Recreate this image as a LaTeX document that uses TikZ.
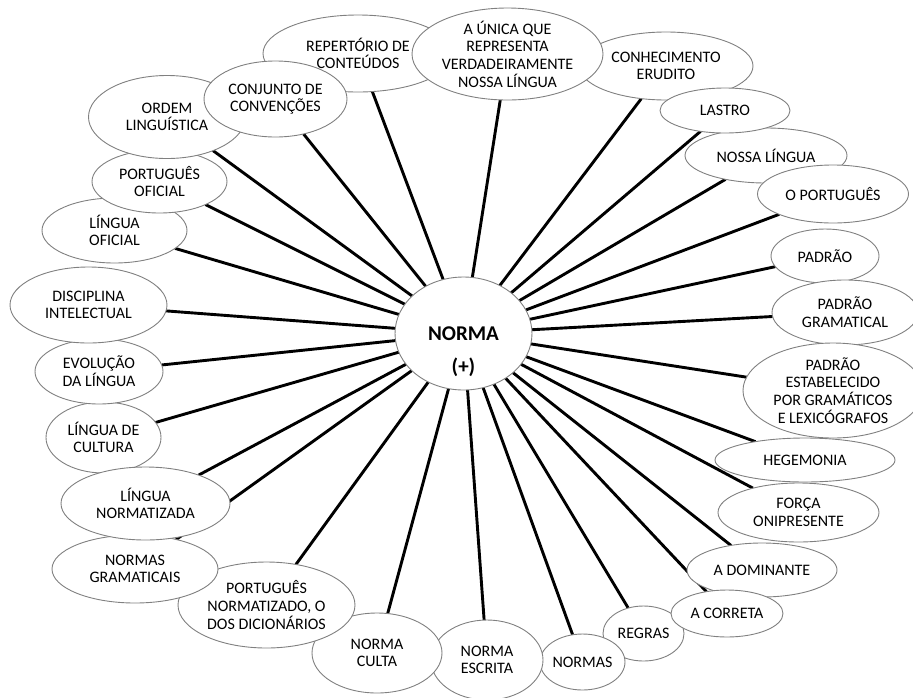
\documentclass[tikz,border=0pt]{standalone}
\usepackage{fontspec}
\setmainfont{Carlito}
\usetikzlibrary{shapes.geometric,backgrounds}
\begin{document}
\begin{tikzpicture}[x=1pt,y=-1pt,
  bub/.style={ellipse, draw=black!50, line width=0.9pt, fill=white, inner sep=-24pt, outer sep=0pt,
    align=center, font=\fontsize{16}{17.7}\selectfont},
  hub/.style={ellipse, draw=black!50, line width=0.9pt, fill=white, inner sep=-24pt, outer sep=0pt,
    minimum width=137pt, minimum height=113pt, font=\bfseries\fontsize{21}{24}\selectfont},
  hubtxt/.style={inner sep=0pt, font=\bfseries\fontsize{21}{24}\selectfont},
  conn/.style={line width=2.9pt, black}]
\useasboundingbox (0,0) rectangle (913,697);

% central node
\node[hub] (norma) at (463.5,333.5) {NORMA};
\node[hubtxt] (plus) at (463.5,367) {(+)};

% surrounding ellipses (drawing order = stacking order)
\node[bub, minimum width=81pt, minimum height=55pt] (regras) at (643.5,633.5) {REGRAS};
\node[bub, minimum width=85pt, minimum height=56pt] (normas) at (582.5,662) {NORMAS};
\node[bub, minimum width=112pt, minimum height=80pt] (ne) at (487,660) {NORMA\\ESCRITA};
\node[bub, minimum width=130pt, minimum height=80pt] (nc) at (377,653) {NORMA\\CULTA};
\node[bub, minimum width=177pt, minimum height=86pt] (pn) at (266.5,605) {PORTUGUÊS\\NORMATIZADO, O\\DOS DICIONÁRIOS};
\node[bub, minimum width=166pt, minimum height=68pt] (ng) at (135,569) {NORMAS\\GRAMATICAIS};
\node[bub, minimum width=115pt, minimum height=71pt] (ldc) at (103.5,437.5) {LÍNGUA DE\\CULTURA};
\node[bub, minimum width=169pt, minimum height=73pt] (ln) at (145.5,503.5) {LÍNGUA\\NORMATIZADA};
\node[bub, minimum width=128pt, minimum height=65pt] (evol) at (99,371.5) {EVOLUÇÃO\\DA LÍNGUA};
\node[bub, minimum width=157pt, minimum height=76pt] (disc) at (88.5,305) {DISCIPLINA\\INTELECTUAL};
\node[bub, minimum width=145pt, minimum height=65pt] (lo) at (114.5,230.5) {LÍNGUA\\OFICIAL};
\node[bub, minimum width=135pt, minimum height=63pt] (po) at (159.5,181.5) {PORTUGUÊS\\OFICIAL};
\node[bub, minimum width=157pt, minimum height=83pt] (ordem) at (167,117) {ORDEM\\LINGUÍSTICA};
\node[bub, minimum width=190pt, minimum height=77pt] (rep) at (358,53.5) {REPERTÓRIO DE\\CONTEÚDOS};
\node[bub, minimum width=143pt, minimum height=76pt] (conj) at (275.5,99) {CONJUNTO DE\\CONVENÇÕES};
\node[bub, minimum width=174pt, minimum height=68pt] (conh) at (666,66) {CONHECIMENTO\\ERUDITO};
\node[bub, minimum width=191pt, minimum height=92pt] (unica) at (507.5,54) {A ÚNICA QUE\\REPRESENTA\\VERDADEIRAMENTE\\NOSSA LÍNGUA};
\node[bub, minimum width=162pt, minimum height=55pt] (nl) at (766,155.5) {NOSSA LÍNGUA};
\node[bub, minimum width=130pt, minimum height=45pt] (lastro) at (725,110.5) {LASTRO};
\node[bub, minimum width=151pt, minimum height=58pt] (op) at (833,194) {O PORTUGUÊS};
\node[bub, minimum width=108pt, minimum height=54pt] (padrao) at (825,256) {PADRÃO};
\node[bub, minimum width=146pt, minimum height=65pt] (pg) at (845,312.5) {PADRÃO\\GRAMATICAL};
\node[bub, minimum width=180pt, minimum height=95pt] (pe) at (833,390.5) {PADRÃO\\ESTABELECIDO\\POR GRAMÁTICOS\\E LEXICÓGRAFOS};
\node[bub, minimum width=180pt, minimum height=44pt] (heg) at (805,460) {HEGEMONIA};
\node[bub, minimum width=161pt, minimum height=59pt] (forca) at (798.5,512.5) {FORÇA\\ONIPRESENTE};
\node[bub, minimum width=150pt, minimum height=54pt] (ad) at (762,570) {A DOMINANTE};
\node[bub, minimum width=112pt, minimum height=47pt] (ac) at (727,613.5) {A CORRETA};

% connectors behind all ellipses
\begin{scope}[on background layer]
\foreach \n in {regras,normas,ne,nc,pn,ng,ldc,ln,evol,disc,lo,po,ordem,rep,conj,conh,unica,nl,lastro,op,padrao,pg,pe,heg,forca,ad,ac}
  \draw[conn] (norma) -- (\n);
\end{scope}
\end{tikzpicture}
\end{document}
